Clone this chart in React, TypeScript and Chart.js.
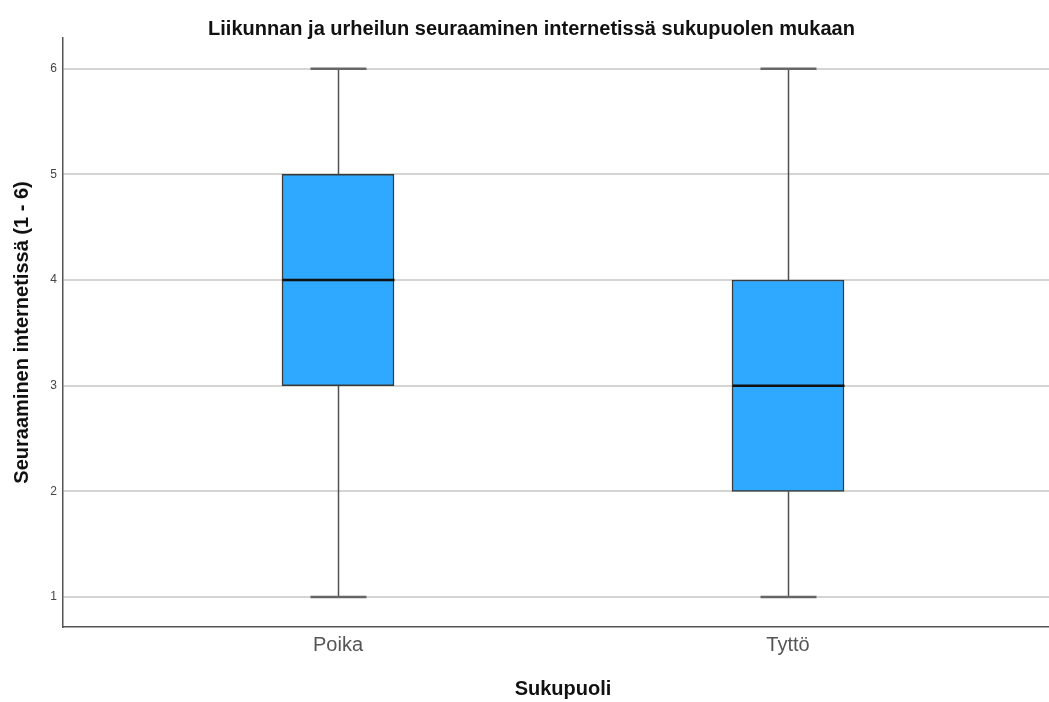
import React, { useEffect, useRef } from "react";
import { Chart, registerables } from "chart.js";

Chart.register(...registerables);

// Groups and their five-number summaries
const CATEGORIES = ["Poika", "Tyttö"];
const WHISKER_MIN = [1, 1];
const Q1 = [3, 2];
const MEDIAN = [4, 3];
const Q3 = [5, 4];
const WHISKER_MAX = [6, 6];
const Y_TICKS = [1, 2, 3, 4, 5, 6];

const TITLE = "Liikunnan ja urheilun seuraaminen internetissä sukupuolen mukaan";
const Y_TITLE = "Seuraaminen internetissä (1 - 6)";
const X_TITLE = "Sukupuoli";

const FONT = "'Liberation Sans', Arial, sans-serif";
const BOX_WIDTH = 112;
const CANVAS_W = 1063;
const VIEW_W = 1049;
const VIEW_H = 702;

// Whiskers, caps and median lines drawn over the floating bars
const boxPlotPlugin = {
  id: "boxPlotWhiskers",
  afterDatasetsDraw(chart: any) {
    const { ctx, scales } = chart;
    const xs = scales.x;
    const ys = scales.y;
    ctx.save();
    CATEGORIES.forEach((_, i) => {
      const cx = Math.round(xs.getPixelForValue(i + 1)) + 0.5;
      const yMin = ys.getPixelForValue(WHISKER_MIN[i]);
      const yQ1 = ys.getPixelForValue(Q1[i]);
      const yMed = ys.getPixelForValue(MEDIAN[i]);
      const yQ3 = ys.getPixelForValue(Q3[i]);
      const yMax = ys.getPixelForValue(WHISKER_MAX[i]);

      ctx.strokeStyle = "#505050";
      ctx.lineWidth = 1.5;
      ctx.beginPath();
      ctx.moveTo(cx, yQ1);
      ctx.lineTo(cx, yMin);
      ctx.moveTo(cx, yQ3);
      ctx.lineTo(cx, yMax);
      ctx.stroke();

      const capHalf = BOX_WIDTH / 4;
      ctx.lineWidth = 2.5;
      ctx.strokeStyle = "#666666";
      ctx.beginPath();
      ctx.moveTo(cx - capHalf, yMin);
      ctx.lineTo(cx + capHalf, yMin);
      ctx.moveTo(cx - capHalf, yMax);
      ctx.lineTo(cx + capHalf, yMax);
      ctx.stroke();

      ctx.strokeStyle = "#111111";
      ctx.lineWidth = 2.5;
      ctx.beginPath();
      ctx.moveTo(cx - BOX_WIDTH / 2, yMed);
      ctx.lineTo(cx + BOX_WIDTH / 2, yMed);
      ctx.stroke();
    });
    ctx.restore();
  },
};

export default function App() {
  const canvasRef = useRef<HTMLCanvasElement>(null);

  useEffect(() => {
    document.body.style.margin = "0";
    document.body.style.overflow = "hidden";
    const canvas = canvasRef.current;
    if (!canvas) return;

    const chart = new Chart(canvas, {
      type: "bar",
      data: {
        datasets: [
          {
            data: CATEGORIES.map((_, i) => ({ x: i + 1, y: [Q1[i], Q3[i]] })) as any,
            backgroundColor: "#2EA9FF",
            borderColor: "#3a3a3a",
            borderWidth: 1.5,
            borderSkipped: false,
            barThickness: BOX_WIDTH,
          },
        ],
      },
      options: {
        animation: false,
        responsive: false,
        layout: { padding: { top: 0, right: 0, bottom: 0, left: 0 } },
        plugins: {
          legend: { display: false },
          tooltip: { enabled: false },
          title: {
            display: true,
            text: TITLE,
            color: "#111111",
            font: { family: FONT, size: 20, weight: "bold", lineHeight: 1 },
            padding: { top: 19, bottom: -1 },
          },
        },
        scales: {
          x: {
            type: "linear",
            offset: false,
            min: 0.3889,
            max: 2.6111,
            afterBuildTicks(scale: any) {
              scale.ticks = CATEGORIES.map((_, i) => ({ value: i + 1 }));
            },
            afterFit(scale: any) {
              scale.height = 75;
            },
            grid: { display: false, drawTicks: false },
            border: { display: true, color: "#555555", width: 1.5 },
            ticks: {
              padding: 6,
              color: "#555555",
              font: { family: FONT, size: 20 },
              callback: (v: any) => CATEGORIES[Math.round(Number(v)) - 1] ?? "",
            },
            title: {
              display: true,
              text: X_TITLE,
              color: "#111111",
              font: { family: FONT, size: 20, weight: "bold" },
              padding: { top: 0, bottom: 1 },
            },
          },
          y: {
            type: "linear",
            min: 0.716,
            max: 6.29,
            afterBuildTicks(scale: any) {
              scale.ticks = Y_TICKS.map((v) => ({ value: v }));
            },
            afterFit(scale: any) {
              scale.width = 63;
            },
            grid: { color: "#d4d4d4", lineWidth: 2, drawTicks: false },
            border: { display: true, color: "#555555", width: 1.5 },
            ticks: {
              padding: 6,
              color: "#444444",
              font: { family: FONT, size: 12 },
            },
            title: {
              display: true,
              text: Y_TITLE,
              color: "#111111",
              font: { family: FONT, size: 20, weight: "bold" },
              padding: { top: 10, bottom: 0 },
            },
          },
        },
      },
      plugins: [boxPlotPlugin],
    });

    return () => chart.destroy();
  }, []);

  return (
    <div
      style={{
        position: "absolute",
        left: 0,
        top: 0,
        width: VIEW_W,
        height: VIEW_H,
        overflow: "hidden",
        background: "#ffffff",
      }}
    >
      <canvas ref={canvasRef} width={CANVAS_W} height={VIEW_H} style={{ display: "block" }} />
    </div>
  );
}
